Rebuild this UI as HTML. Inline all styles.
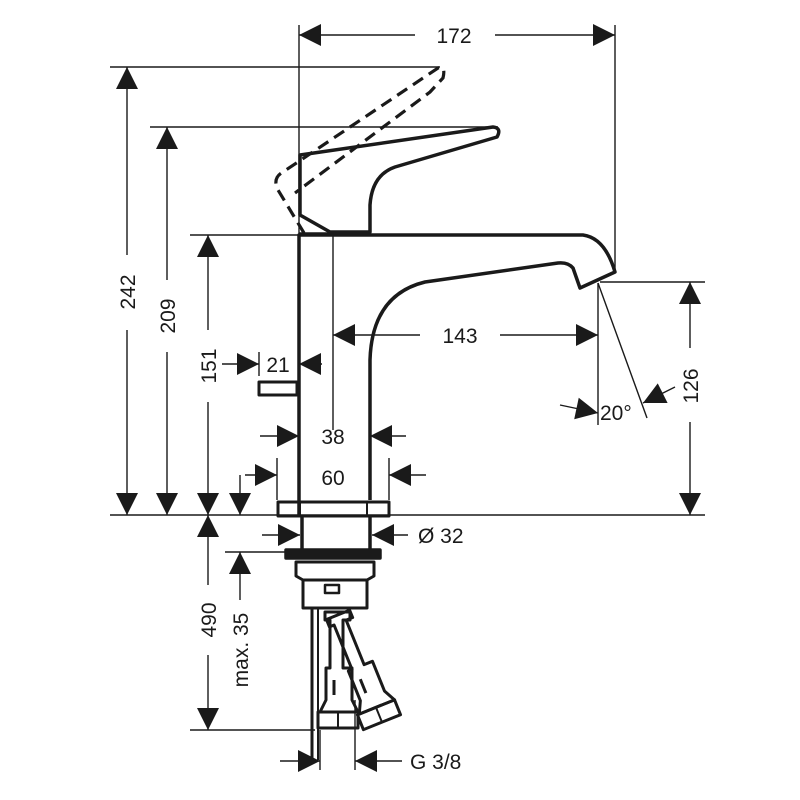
<!DOCTYPE html>
<html><head><style>html,body{margin:0;padding:0;background:#fff}svg{display:block}</style></head>
<body>
<svg width="800" height="800" viewBox="0 0 800 800" xmlns="http://www.w3.org/2000/svg" font-family="Liberation Sans, sans-serif" font-size="21" fill="none" stroke="#1a1a1a">
<defs>
<marker id="a" viewBox="0 0 10 10" refX="10" refY="5" markerWidth="10" markerHeight="10" markerUnits="userSpaceOnUse" orient="auto-start-reverse" overflow="visible">
<path d="M-12,-6 L10,5 L-12,16 z" fill="#1a1a1a" stroke="none"/>
</marker>
</defs>
<g stroke-width="1.4">
<line x1="299" y1="25" x2="299" y2="235"/>
<line x1="615" y1="25" x2="615" y2="273"/>
<line x1="110" y1="67" x2="440" y2="67"/>
<line x1="150" y1="127" x2="498" y2="127"/>
<line x1="190" y1="235" x2="299" y2="235"/>
<line x1="110" y1="515" x2="705" y2="515"/>
<line x1="600" y1="282" x2="705" y2="282"/>
<line x1="190" y1="730" x2="315" y2="730"/>
<line x1="225" y1="552" x2="290" y2="552"/>
<line x1="333" y1="235" x2="333" y2="430"/>
<line x1="598" y1="283" x2="598" y2="425"/>
<line x1="598" y1="283" x2="647" y2="418"/>
<line x1="259" y1="352" x2="259" y2="376"/>
<line x1="277" y1="458" x2="277" y2="500"/>
<line x1="389" y1="458" x2="389" y2="500"/>
<line x1="320" y1="730" x2="320" y2="770"/>
<line x1="355" y1="700" x2="355" y2="770"/>
<line x1="299" y1="35" x2="415" y2="35" marker-start="url(#a)"/>
<line x1="495" y1="35" x2="615" y2="35" marker-end="url(#a)"/>
<line x1="127" y1="67" x2="127" y2="255" marker-start="url(#a)"/>
<line x1="127" y1="330" x2="127" y2="515" marker-end="url(#a)"/>
<line x1="167" y1="127" x2="167" y2="280" marker-start="url(#a)"/>
<line x1="167" y1="352" x2="167" y2="515" marker-end="url(#a)"/>
<line x1="208" y1="235" x2="208" y2="330" marker-start="url(#a)"/>
<line x1="208" y1="402" x2="208" y2="515" marker-end="url(#a)"/>
<line x1="208" y1="515" x2="208" y2="585" marker-start="url(#a)"/>
<line x1="208" y1="655" x2="208" y2="730" marker-end="url(#a)"/>
<line x1="240" y1="475" x2="240" y2="515" marker-end="url(#a)"/>
<line x1="240" y1="552" x2="240" y2="600" marker-start="url(#a)"/>
<line x1="690" y1="282" x2="690" y2="348" marker-start="url(#a)"/>
<line x1="690" y1="422" x2="690" y2="515" marker-end="url(#a)"/>
<line x1="333" y1="335" x2="420" y2="335" marker-start="url(#a)"/>
<line x1="500" y1="335" x2="598" y2="335" marker-end="url(#a)"/>
<line x1="222" y1="364" x2="259" y2="364" marker-end="url(#a)"/>
<line x1="299" y1="364" x2="322" y2="364" marker-start="url(#a)"/>
<line x1="260" y1="436" x2="299" y2="436" marker-end="url(#a)"/>
<line x1="370" y1="436" x2="406" y2="436" marker-start="url(#a)"/>
<line x1="245" y1="475" x2="277" y2="475" marker-end="url(#a)"/>
<line x1="389" y1="475" x2="426" y2="475" marker-start="url(#a)"/>
<line x1="262" y1="535" x2="300" y2="535" marker-end="url(#a)"/>
<line x1="372" y1="535" x2="408" y2="535" marker-start="url(#a)"/>
<line x1="280" y1="761" x2="320" y2="761" marker-end="url(#a)"/>
<line x1="355" y1="761" x2="402" y2="761" marker-start="url(#a)"/>
<line x1="560" y1="405" x2="598" y2="413" marker-end="url(#a)"/>
<line x1="675" y1="387" x2="643" y2="403" marker-end="url(#a)"/>
</g>
<g stroke-width="3.5" stroke-linejoin="round">
<path d="M299,515 L299,235 L583,235 Q605,238 615,272 L580,288 L573,268 Q568,262 558,263 L425,282 Q372,295 370,360 L370,500"/>
<path d="M300,215 L300,155 L493,127 Q502,128 497,137 L395,167 Q372,175 370,205 L370,232 L330,232 L300,215 Z"/>
<line x1="299" y1="234" x2="370" y2="234"/>
<rect x="259" y="382" width="38" height="13" stroke-width="3"/>
<rect x="278" y="502" width="111" height="14" stroke-width="3"/>
<line x1="300" y1="502" x2="300" y2="516" stroke-width="2"/>
<line x1="367" y1="502" x2="367" y2="516" stroke-width="2"/>
<line x1="302" y1="517" x2="302" y2="550"/>
<line x1="370" y1="517" x2="370" y2="550"/>
<rect x="286" y="550" width="94" height="8" fill="#1a1a1a"/>
<path d="M296,562 L374,562 L374,576 L367,580 L303,580 L296,576 Z" stroke-width="3"/>
<path d="M303,580 L303,608 L367,608 L367,580" stroke-width="3"/>
<rect x="325" y="585" width="14" height="8" stroke-width="2.5"/>
<line x1="312" y1="608" x2="312" y2="760" stroke-width="3"/>
<line x1="318" y1="608" x2="318" y2="760" stroke-width="2"/>
<g id="h">
<path d="M325,612 L350,612 L350,620 L343,620 L343,668 L352,668 L352,700 L358,712 L320,712 L326,700 L326,668 L330,668 L330,620 L325,620 Z" stroke-width="3"/>
<rect x="318" y="712" width="40" height="16" stroke-width="3"/>
<line x1="334" y1="680" x2="334" y2="695" stroke-width="3"/>
<line x1="338" y1="712" x2="338" y2="728" stroke-width="2"/>
</g>
<use href="#h" transform="rotate(-22 345 612)"/>
</g>
<path d="M304,233 L278,190 Q272,178 283,172 L438,68 Q446,65 443,78 L430,92 L295,193" stroke-width="3.2" stroke-dasharray="12,7"/>
<g fill="#1a1a1a" stroke="none">
<text x="454" y="43" text-anchor="middle">172</text>
<text x="460" y="343" text-anchor="middle">143</text>
<text x="278" y="372" text-anchor="middle">21</text>
<text x="333" y="444" text-anchor="middle">38</text>
<text x="333" y="485" text-anchor="middle">60</text>
<text x="418" y="543">Ø 32</text>
<text x="410" y="769">G 3/8</text>
<text x="600" y="420">20°</text>
<text transform="translate(135,292) rotate(-90)" text-anchor="middle">242</text>
<text transform="translate(175,316) rotate(-90)" text-anchor="middle">209</text>
<text transform="translate(216,366) rotate(-90)" text-anchor="middle">151</text>
<text transform="translate(216,620) rotate(-90)" text-anchor="middle">490</text>
<text transform="translate(248,650) rotate(-90)" text-anchor="middle">max. 35</text>
<text transform="translate(698,386) rotate(-90)" text-anchor="middle">126</text>
</g>
</svg>
</body></html>
